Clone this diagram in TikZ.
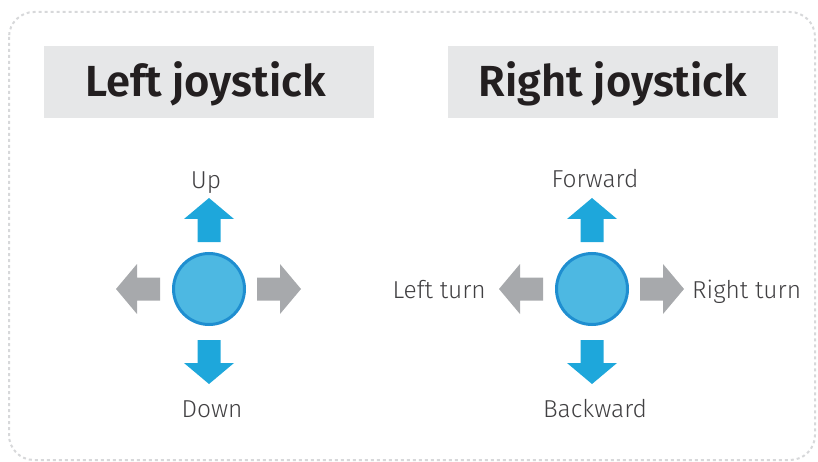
\documentclass[tikz,border=0pt]{standalone}
\usepackage{fontspec}
\setmainfont{Fira Sans}[UprightFont=* Light, BoldFont=* SemiBold]
\definecolor{jBox}{HTML}{E6E7E8}
\definecolor{jTitle}{HTML}{231F20}
\definecolor{jText}{HTML}{414042}
\definecolor{jBlue}{HTML}{1EA7DB}
\definecolor{jFill}{HTML}{4DB8E2}
\definecolor{jRing}{HTML}{1F8ED0}
\definecolor{jGray}{HTML}{A7A9AC}
\definecolor{jBorder}{HTML}{D7D8DA}
\usetikzlibrary{positioning}

\tikzset{
  padarrow/.pic={\fill (0,-11.5) -- (23,-11.5) -- (23,-25) -- (44,0) -- (23,25) -- (23,11.5) -- (0,11.5) -- cycle;},
  stick/.style={circle, draw=jRing, line width=3pt, fill=jFill, minimum size=71pt, inner sep=0pt},
  titlebox/.style={fill=jBox, minimum width=330pt, minimum height=72pt, inner sep=0pt,
    text height=39pt, text depth=9pt, text=jTitle, font=\bfseries\fontsize{43.5}{43.5}\selectfont},
  dirlabel/.style={font=\fontsize{24.5}{24.5}\selectfont, text=jText, inner sep=0pt}
}

\begin{document}
\begin{tikzpicture}[x=1pt, y=-1pt]
  \useasboundingbox (0,0) rectangle (818,462);
  \draw[jBorder, line width=2pt, dash pattern=on 3pt off 3pt, rounded corners=25pt] (9,12) rectangle (815,460);
  \node[titlebox] (ltitle) at (209,82) {\hspace*{-7pt}Left joystick};
  \node[titlebox] (rtitle) at (613,82) {Right joystick};
  \foreach \cx/\nm in {209/l, 592/r}{
    \node[stick] (\nm stick) at (\cx,289) {};
    \pic[jBlue, rotate=90] at (\cx,242) {padarrow};
    \pic[jBlue, rotate=-90] at (\cx,340) {padarrow};
    \pic[jGray, rotate=180] at (\cx-49,289) {padarrow};
    \pic[jGray] at (\cx+48,289) {padarrow};}
  % direction labels
  \node[dirlabel, anchor=base] (lup) at (206,189) {Up};
  \node[dirlabel, anchor=base] (ldown) at (212,417) {Down};
  \node[dirlabel, anchor=base] (rfwd) at (595,188) {Forward};
  \node[dirlabel, anchor=base] (rback) at (595,417) {Backward};
  \node[dirlabel, anchor=base east] (rleft) at (486,298) {Left turn};
  \node[dirlabel, anchor=base west] (rright) at (692,298) {Right turn};
\end{tikzpicture}
\end{document}
